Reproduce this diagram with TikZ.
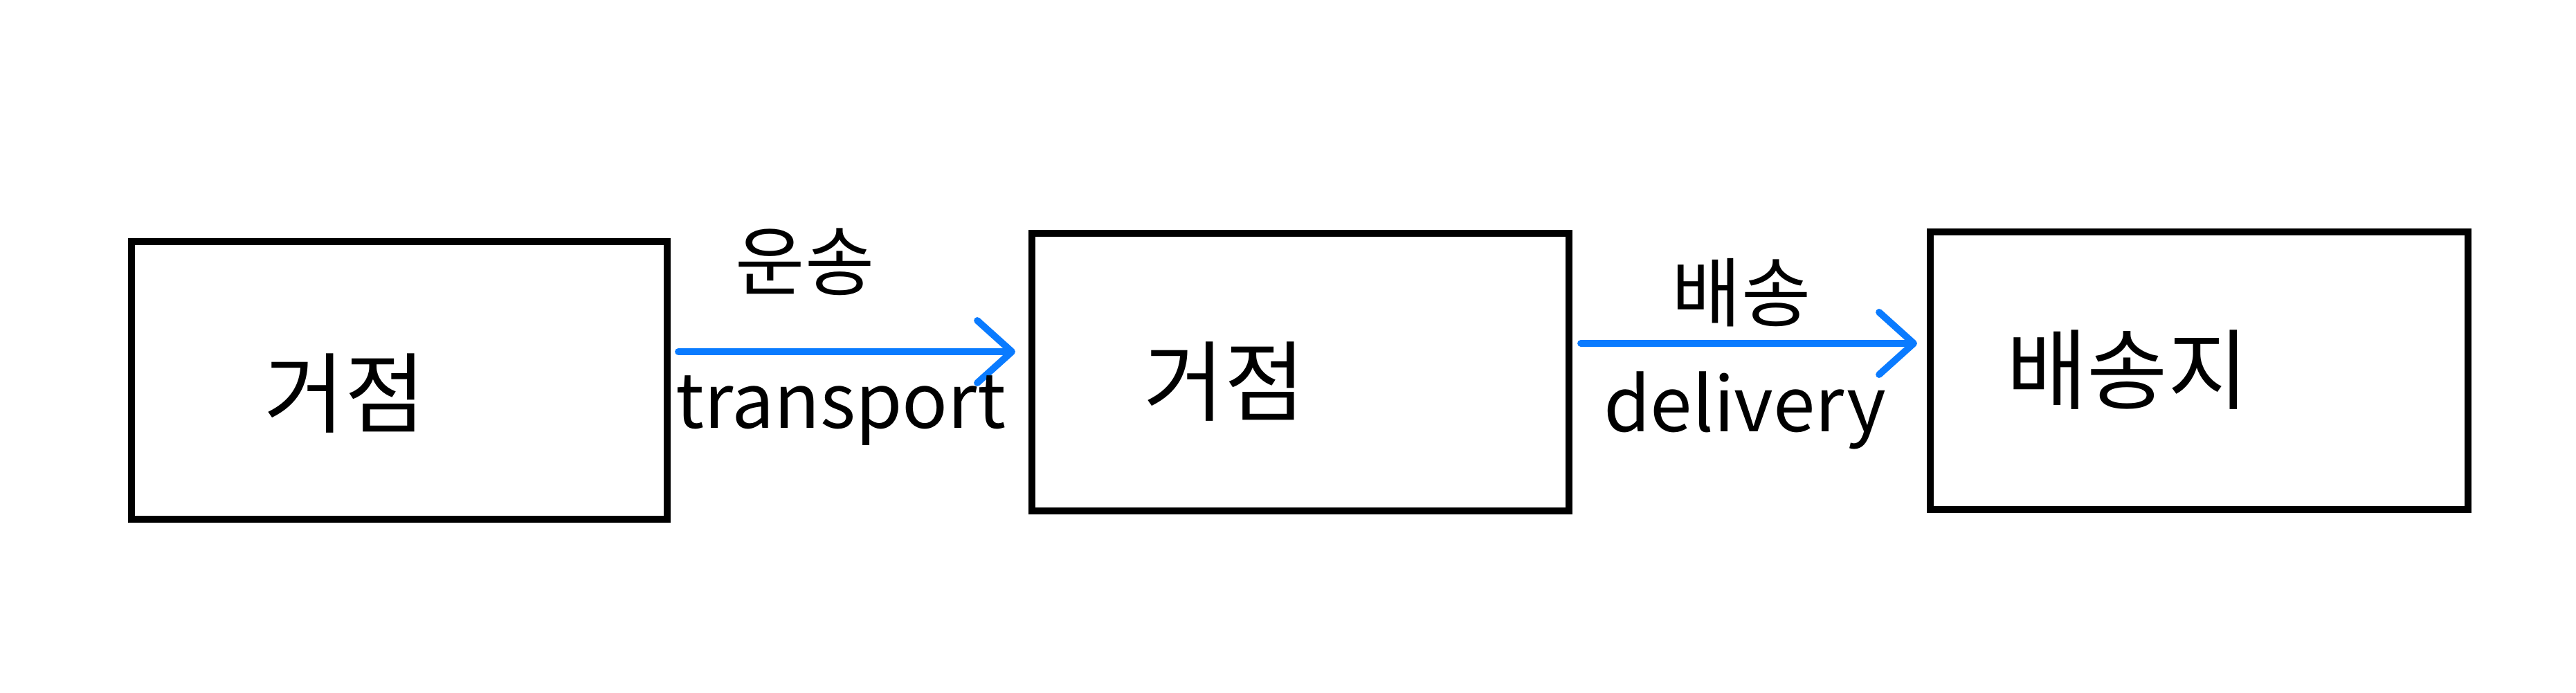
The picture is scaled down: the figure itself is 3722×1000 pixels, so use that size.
\documentclass[tikz,border=0pt]{standalone}
\usepackage{fontspec}
\setmainfont{Noto Sans CJK KR}
\usetikzlibrary{arrows.meta}
\definecolor{arrowblue}{HTML}{0A7BFF}
\tikzset{
  boxnode/.style={draw=black, line width=2.9pt, inner sep=0pt},
  flow/.style={draw=arrowblue, line width=2.8pt, line cap=round, -{Straight Barb[length=0.5cm, width=0.9cm, line width=2.8pt, round]}},
  lbl/.style={font=\fontsize{31}{35}\selectfont, inner sep=0pt},
  boxlbl/.style={font=\fontsize{36}{40}\selectfont, inner sep=0pt}
}
\begin{document}
\begin{tikzpicture}[x=0.01cm, y=-0.01cm]
\useasboundingbox (0,0) rectangle (3722,1000);
\fill[white] (0,0) rectangle (3722,1000);
\node[boxnode, minimum width=7.74cm, minimum height=4.01cm] (hubA) at (577,549.5) {};
\node[boxnode, minimum width=7.76cm, minimum height=4.01cm] (hubB) at (1879,537.5) {};
\node[boxnode, minimum width=7.77cm, minimum height=4.01cm] (dest) at (3177.5,535.5) {};
\node[boxlbl] (tA) at (498,568) {거점};
\node[boxlbl] (tB) at (1769,551) {거점};
\node[boxlbl] (tC) at (3074,534) {배송지};
\coordinate (a1s) at (980,508);
\coordinate (a1e) at (1467,508);
\coordinate (a2s) at (2284,496);
\coordinate (a2e) at (2770,496);
\draw[flow] (a1s) -- (a1e);
\draw[flow] (a2s) -- (a2e);
\node[lbl] (l1k) at (1163,378) {운송};
\node[lbl] (l1e) at (1215,593) {transport};
\node[lbl] (l2k) at (2516,423) {배송};
\node[lbl] (l2e) at (2521,593) {delivery};
\end{tikzpicture}
\end{document}
